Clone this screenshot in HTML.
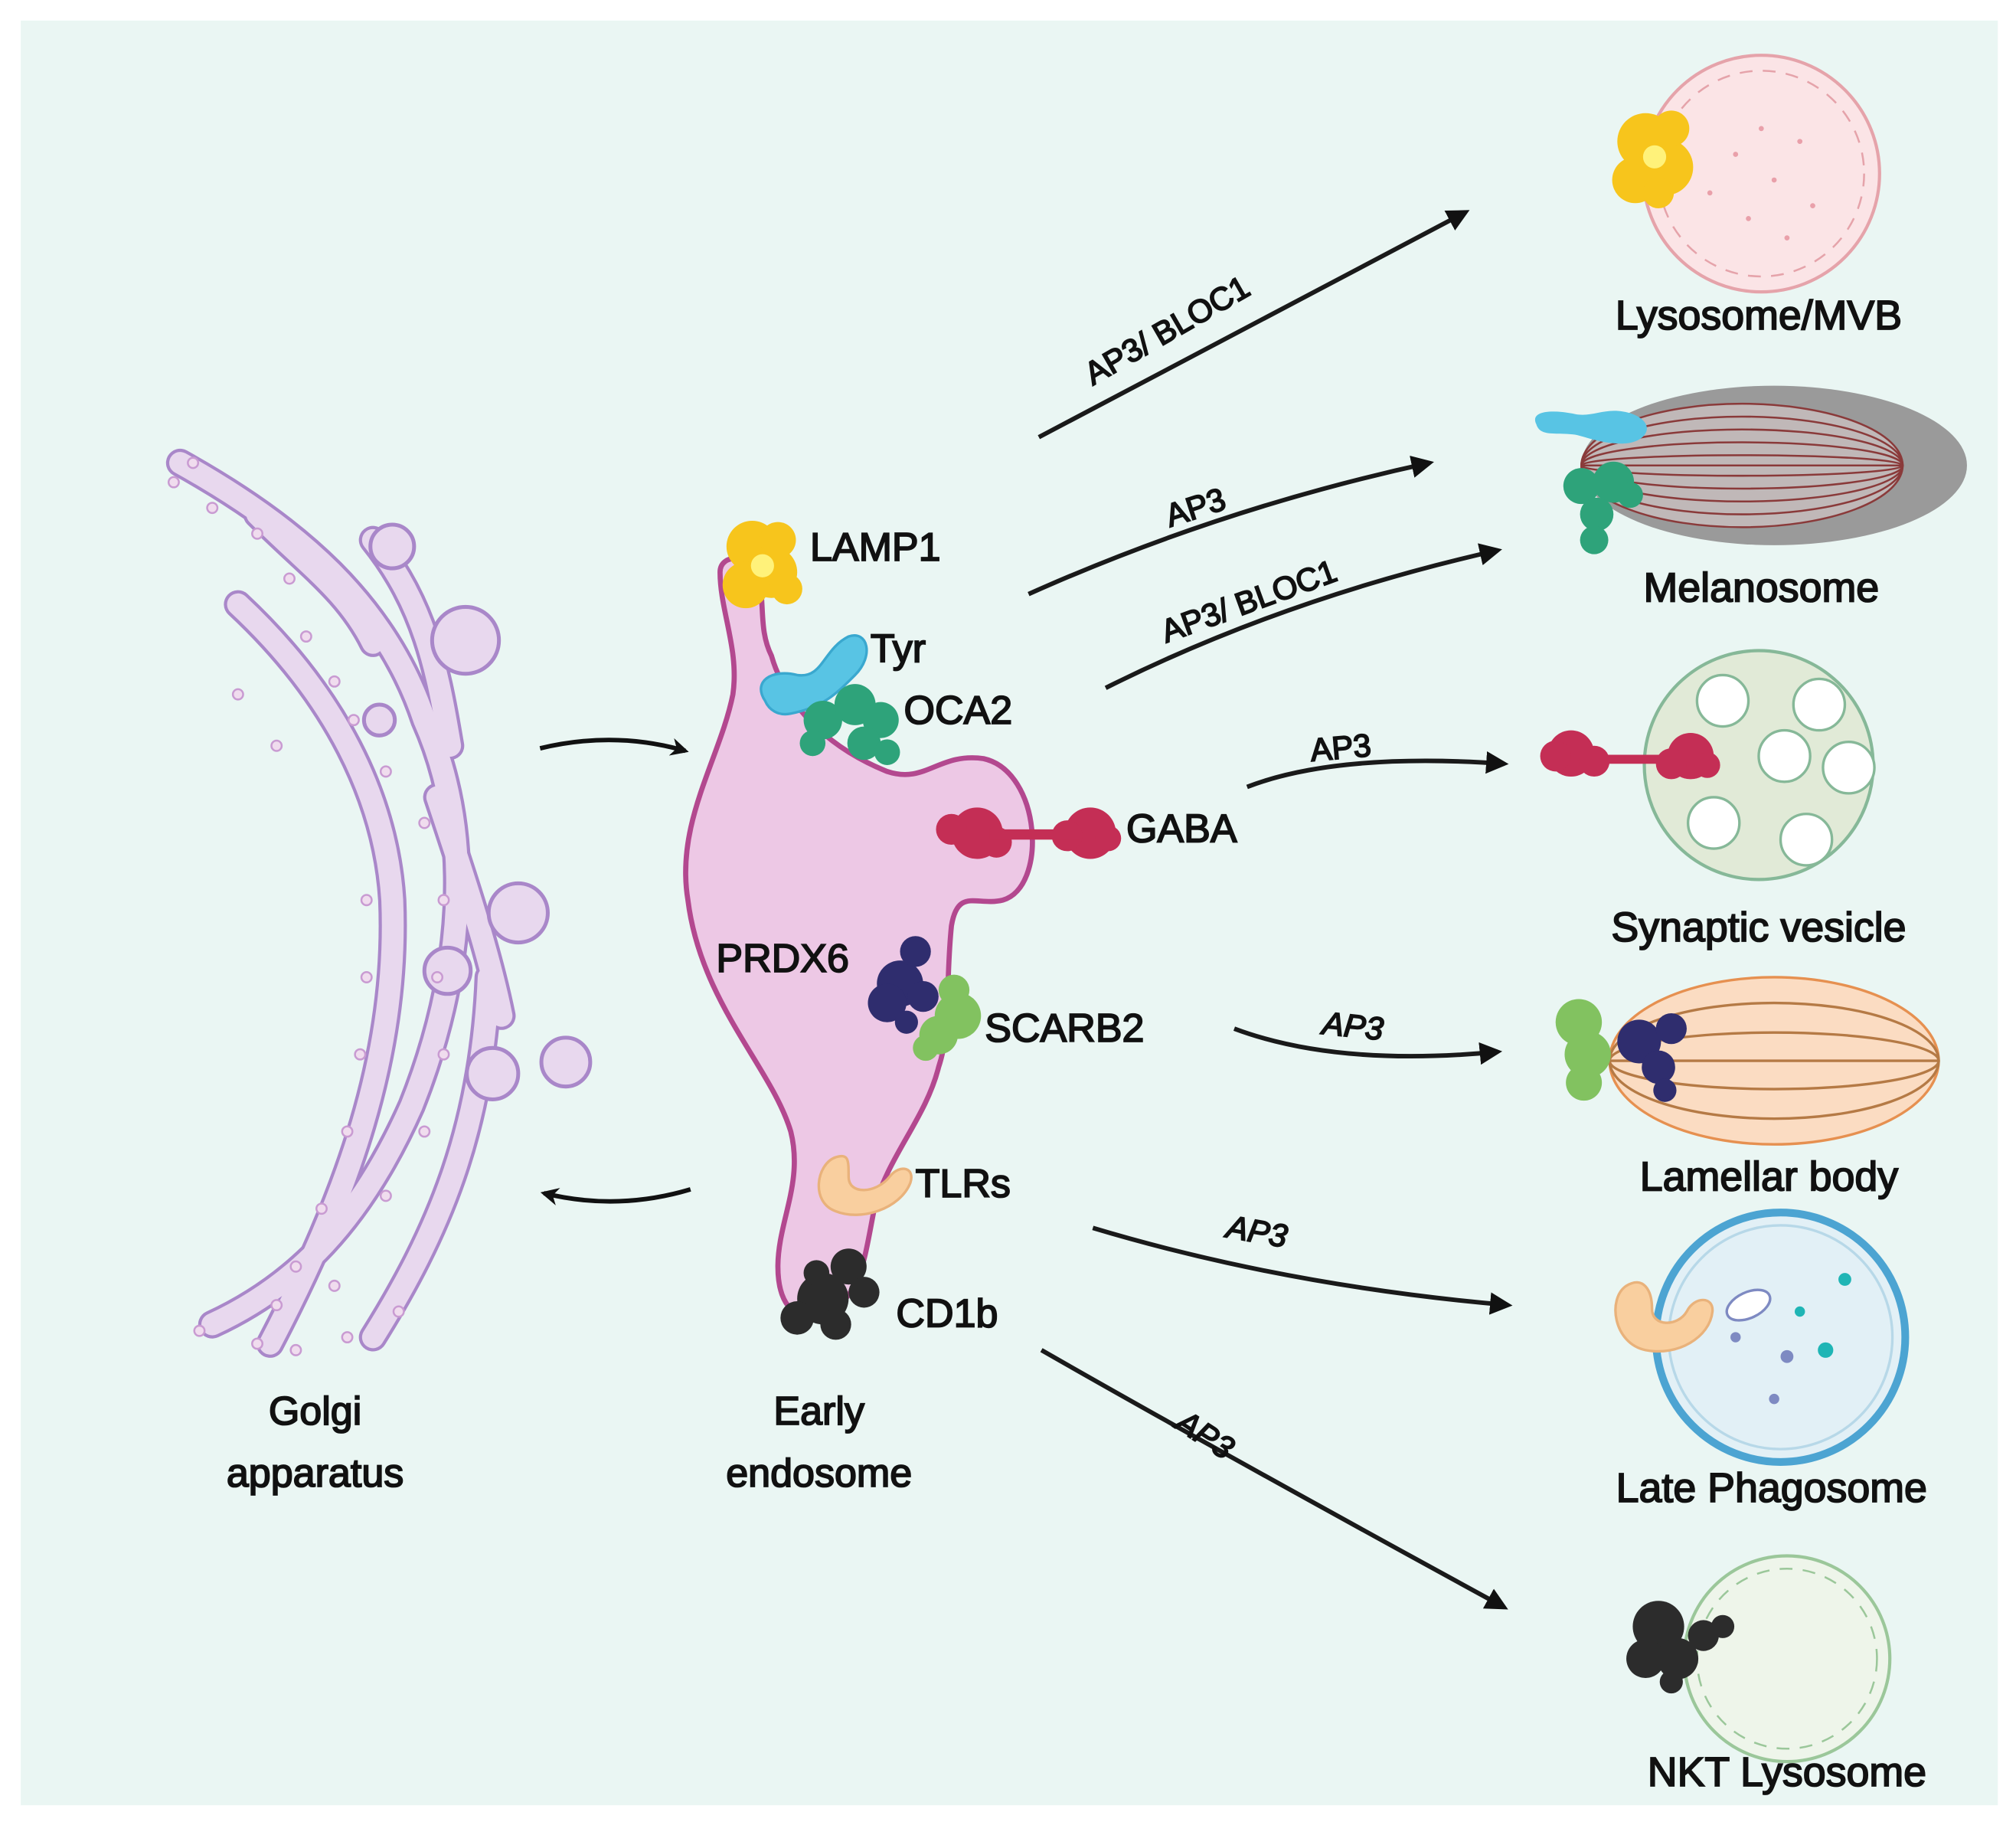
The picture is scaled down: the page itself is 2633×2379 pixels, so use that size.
<!DOCTYPE html>
<html><head><meta charset="utf-8"><style>
html,body{margin:0;padding:0;background:#fff}
svg{display:block}
text{font-family:"Liberation Sans",sans-serif;fill:#111;stroke:#111;stroke-width:1.1}
</style></head><body>
<svg width="2633" height="2379" viewBox="0 0 1568 1417" xmlns="http://www.w3.org/2000/svg">
<defs>
<marker id="ah" viewBox="0 0 10 10" refX="8" refY="5" markerWidth="5" markerHeight="5" orient="auto" markerUnits="strokeWidth">
<path d="M0,0 L10,5 L0,10 z" fill="#111"/></marker>
<marker id="ah2" viewBox="0 0 10 10" refX="8" refY="5" markerWidth="4" markerHeight="4" orient="auto" markerUnits="strokeWidth">
<path d="M0,0 L10,5 L0,10 L3,5 z" fill="#111"/></marker>
</defs>
<rect x="0" y="0" width="1568" height="1417" fill="#fff"/>
<rect x="16" y="16" width="1538" height="1388" fill="#eaf6f3"/>

<!-- Golgi -->
<g fill="none" stroke-linecap="round">
<g stroke="#a987c9" stroke-width="22">
<path d="M140,360 C230,410 300,470 330,560 C370,650 360,760 320,860 C280,950 230,1000 165,1030"/>
<path d="M185,470 C260,540 300,620 305,700 C310,820 270,930 210,1045"/>
<path d="M290,420 C330,470 340,520 350,580"/>
<path d="M340,620 C360,680 380,740 390,790"/>
<path d="M380,760 C375,880 340,960 290,1040"/>
<path d="M200,400 C240,440 270,460 290,500"/>
</g>
<g stroke="#e8d8ee" stroke-width="17">
<path d="M140,360 C230,410 300,470 330,560 C370,650 360,760 320,860 C280,950 230,1000 165,1030"/>
<path d="M185,470 C260,540 300,620 305,700 C310,820 270,930 210,1045"/>
<path d="M290,420 C330,470 340,520 350,580"/>
<path d="M340,620 C360,680 380,740 390,790"/>
<path d="M380,760 C375,880 340,960 290,1040"/>
<path d="M200,400 C240,440 270,460 290,500"/>
</g>
</g>
<g fill="#e8d8ee" stroke="#a987c9" stroke-width="3">
<circle cx="305" cy="425" r="17"/>
<circle cx="362" cy="498" r="26"/>
<circle cx="348" cy="755" r="18"/>
<circle cx="403" cy="710" r="23"/>
<circle cx="440" cy="826" r="19"/>
<circle cx="383" cy="835" r="20"/>
<circle cx="295" cy="560" r="12"/>
</g>
<g fill="#f0dcee" stroke="#c99bd2" stroke-width="1.5">
<circle cx="135" cy="375" r="4"/><circle cx="150" cy="360" r="4"/><circle cx="165" cy="395" r="4"/><circle cx="200" cy="415" r="4"/><circle cx="225" cy="450" r="4"/>
<circle cx="238" cy="495" r="4"/><circle cx="260" cy="530" r="4"/><circle cx="275" cy="560" r="4"/><circle cx="300" cy="600" r="4"/><circle cx="330" cy="640" r="4"/>
<circle cx="345" cy="700" r="4"/><circle cx="340" cy="760" r="4"/><circle cx="345" cy="820" r="4"/><circle cx="330" cy="880" r="4"/><circle cx="300" cy="930" r="4"/>
<circle cx="285" cy="700" r="4"/><circle cx="285" cy="760" r="4"/><circle cx="280" cy="820" r="4"/><circle cx="270" cy="880" r="4"/><circle cx="250" cy="940" r="4"/>
<circle cx="230" cy="985" r="4"/><circle cx="260" cy="1000" r="4"/><circle cx="200" cy="1045" r="4"/><circle cx="155" cy="1035" r="4"/><circle cx="215" cy="1015" r="4"/>
<circle cx="310" cy="1020" r="4"/><circle cx="270" cy="1040" r="4"/><circle cx="230" cy="1050" r="4"/><circle cx="185" cy="540" r="4"/><circle cx="215" cy="580" r="4"/>
</g>

<path d="M420,582 Q478,568 533,584" fill="none" stroke="#111" stroke-width="3.5" marker-end="url(#ah2)"/>
<path d="M537,925 Q480,942 423,928" fill="none" stroke="#111" stroke-width="3.5" marker-end="url(#ah2)"/>

<!-- Endosome -->
<path d="M560,445 C560,430 585,430 590,450 C595,470 590,490 600,510 C610,545 640,580 690,600 C720,610 730,585 765,590 C810,600 815,690 780,700 C760,705 745,690 740,720 C735,770 740,800 730,830 C720,870 690,900 680,940 C672,980 670,1010 640,1022 C615,1030 605,1010 605,985 C605,950 625,920 615,880 C600,830 545,780 535,700 C525,640 560,590 570,540 C575,505 560,475 560,445 Z" fill="#edc8e5" stroke="#b3488f" stroke-width="4"/>

<g fill="#f7c51c"><circle cx="585" cy="425" r="20"/><circle cx="600" cy="445" r="20"/><circle cx="580" cy="455" r="18"/><circle cx="605" cy="420" r="14"/><circle cx="612" cy="458" r="12"/></g>
<circle cx="593" cy="440" r="9" fill="#fff27a"/>
<path d="M595,545 C585,530 600,520 620,525 C640,528 640,505 660,495 C675,490 680,510 665,525 C650,540 640,550 615,555 C605,557 598,552 595,545 Z" fill="#58c4e4" stroke="#3aa8cf" stroke-width="2"/>
<g fill="#2ea37a"><circle cx="640" cy="560" r="15"/><circle cx="665" cy="548" r="16"/><circle cx="685" cy="560" r="14"/><circle cx="672" cy="578" r="13"/><circle cx="690" cy="585" r="10"/><circle cx="632" cy="578" r="10"/></g>
<g fill="#c42e55"><circle cx="760" cy="648" r="20"/><circle cx="740" cy="645" r="12"/><circle cx="775" cy="655" r="12"/><circle cx="848" cy="648" r="20"/><circle cx="830" cy="650" r="12"/><circle cx="862" cy="652" r="10"/><rect x="770" y="645" width="70" height="8"/></g>
<g fill="#2f2d6e"><circle cx="700" cy="765" r="18"/><circle cx="690" cy="780" r="15"/><circle cx="712" cy="740" r="12"/><circle cx="718" cy="775" r="12"/><circle cx="705" cy="795" r="9"/></g>
<g fill="#82c260"><circle cx="745" cy="790" r="18"/><circle cx="730" cy="805" r="15"/><circle cx="742" cy="770" r="12"/><circle cx="720" cy="815" r="10"/></g>
<path d="M650,900 C635,905 630,935 650,942 C670,950 700,940 708,920 C712,908 700,905 692,915 C682,928 660,930 660,915 C660,902 660,897 650,900 Z" fill="#f9cf9f" stroke="#e9b27b" stroke-width="2"/>
<g fill="#2c2c2c"><circle cx="640" cy="1010" r="20"/><circle cx="620" cy="1025" r="13"/><circle cx="660" cy="985" r="14"/><circle cx="672" cy="1005" r="12"/><circle cx="650" cy="1030" r="12"/><circle cx="635" cy="990" r="10"/></g>

<g font-size="31">
<text x="630" y="436">LAMP1</text>
<text x="677" y="515">Tyr</text>
<text x="703" y="563">OCA2</text>
<text x="876" y="655">GABA</text>
<text x="557" y="756">PRDX6</text>
<text x="766" y="810">SCARB2</text>
<text x="712" y="931">TLRs</text>
<text x="697" y="1032">CD1b</text>
<text x="245" y="1108" text-anchor="middle">Golgi</text>
<text x="245" y="1156" text-anchor="middle">apparatus</text>
<text x="637" y="1108" text-anchor="middle">Early</text>
<text x="637" y="1156" text-anchor="middle">endosome</text>
</g>

<g fill="none" stroke="#1a1a1a" stroke-width="3.5">
<path d="M808,340 L1140,165" marker-end="url(#ah)"/>
<path d="M800,462 Q950,395 1112,360" marker-end="url(#ah)"/>
<path d="M860,535 Q1000,465 1165,428" marker-end="url(#ah)"/>
<path d="M970,612 Q1040,585 1170,594" marker-end="url(#ah)"/>
<path d="M960,800 Q1040,830 1165,818" marker-end="url(#ah)"/>
<path d="M850,955 Q1000,1000 1173,1015" marker-end="url(#ah)"/>
<path d="M810,1050 Q950,1130 1170,1250" marker-end="url(#ah)"/>
</g>
<g font-size="25" style="stroke-width:0.7">
<text transform="translate(850,300) rotate(-30)">AP3/ BLOC1</text>
<text transform="translate(910,410) rotate(-18)">AP3</text>
<text transform="translate(907,500) rotate(-20)">AP3/ BLOC1</text>
<text transform="translate(1020,592) rotate(-5)">AP3</text>
<text transform="translate(1028,804) rotate(6)" font-style="italic">AP3</text>
<text transform="translate(953,962) rotate(10)" font-style="italic">AP3</text>
<text transform="translate(913,1110) rotate(33)" font-style="italic">AP3</text>
</g>

<circle cx="1370" cy="135" r="92" fill="#fbe4e6" stroke="#e5a3aa" stroke-width="2.5"/>
<circle cx="1370" cy="135" r="80" fill="none" stroke="#e5a3aa" stroke-width="1.5" stroke-dasharray="10 8"/>
<g fill="#e9a0aa"><circle cx="1350" cy="120" r="2"/><circle cx="1380" cy="140" r="2"/><circle cx="1400" cy="110" r="2"/><circle cx="1360" cy="170" r="2"/><circle cx="1410" cy="160" r="2"/><circle cx="1330" cy="150" r="2"/><circle cx="1390" cy="185" r="2"/><circle cx="1370" cy="100" r="2"/></g>
<g fill="#f7c51c"><circle cx="1280" cy="110" r="22"/><circle cx="1295" cy="130" r="22"/><circle cx="1272" cy="140" r="18"/><circle cx="1300" cy="100" r="14"/><circle cx="1290" cy="150" r="12"/></g>
<circle cx="1287" cy="122" r="9" fill="#fff27a"/>

<ellipse cx="1380" cy="362" rx="150" ry="62" fill="#9a9a9a"/>
<g fill="none" stroke="#8a3a3a" stroke-width="1.5">
<ellipse cx="1355" cy="362" rx="125" ry="48" fill="#c0b8b8"/>
<ellipse cx="1355" cy="362" rx="125" ry="38"/>
<ellipse cx="1355" cy="362" rx="125" ry="28"/>
<ellipse cx="1355" cy="362" rx="125" ry="18"/>
<ellipse cx="1355" cy="362" rx="125" ry="8"/>
<line x1="1230" y1="362" x2="1480" y2="362"/>
</g>
<path d="M1195,330 C1190,320 1205,318 1225,322 C1240,325 1250,315 1270,322 C1290,330 1280,345 1262,345 C1245,345 1235,340 1225,338 C1210,336 1198,340 1195,330 Z" fill="#58c4e4"/>
<g fill="#2ea37a"><circle cx="1230" cy="378" r="14"/><circle cx="1255" cy="375" r="16"/><circle cx="1242" cy="400" r="13"/><circle cx="1240" cy="420" r="11"/><circle cx="1268" cy="385" r="10"/></g>

<circle cx="1368" cy="595" r="89" fill="#e1ead7" stroke="#86b898" stroke-width="2.5"/>
<g fill="#fff" stroke="#86b898" stroke-width="2">
<circle cx="1340" cy="545" r="20"/><circle cx="1415" cy="548" r="20"/><circle cx="1388" cy="588" r="20"/><circle cx="1438" cy="597" r="20"/><circle cx="1333" cy="640" r="20"/><circle cx="1405" cy="653" r="20"/>
</g>
<g fill="#c42e55"><circle cx="1222" cy="586" r="18"/><circle cx="1210" cy="588" r="12"/><circle cx="1240" cy="592" r="12"/><circle cx="1315" cy="588" r="18"/><circle cx="1300" cy="594" r="12"/><circle cx="1328" cy="595" r="10"/><rect x="1235" y="587" width="70" height="7"/></g>

<ellipse cx="1380" cy="825" rx="128" ry="65" fill="#fbdcc2" stroke="#e69050" stroke-width="2"/>
<g fill="none" stroke="#b57a45" stroke-width="2">
<ellipse cx="1380" cy="825" rx="128" ry="45"/>
<ellipse cx="1380" cy="825" rx="128" ry="22"/>
<line x1="1252" y1="825" x2="1508" y2="825"/>
</g>
<g fill="#82c260"><circle cx="1228" cy="795" r="18"/><circle cx="1235" cy="820" r="18"/><circle cx="1232" cy="842" r="14"/></g>
<g fill="#2f2d6e"><circle cx="1275" cy="810" r="17"/><circle cx="1290" cy="830" r="13"/><circle cx="1300" cy="800" r="12"/><circle cx="1295" cy="848" r="9"/></g>

<circle cx="1385" cy="1040" r="97" fill="#e2f0f6" stroke="#4ca4d2" stroke-width="6"/>
<circle cx="1385" cy="1040" r="87" fill="none" stroke="#b7d8e8" stroke-width="2"/>
<g fill="#1fb5b5"><circle cx="1435" cy="995" r="5"/><circle cx="1420" cy="1050" r="6"/><circle cx="1400" cy="1020" r="4"/></g>
<g fill="#7e8ac2"><circle cx="1390" cy="1055" r="5"/><circle cx="1380" cy="1088" r="4"/><circle cx="1350" cy="1040" r="4"/></g>
<ellipse cx="1360" cy="1015" rx="18" ry="10" fill="#fff" stroke="#7e8ac2" stroke-width="2" transform="rotate(-25 1360 1015)"/>
<path d="M1265,1000 C1250,1010 1255,1045 1280,1050 C1305,1055 1330,1040 1332,1020 C1333,1008 1318,1008 1312,1020 C1305,1032 1285,1032 1285,1018 C1285,1003 1278,992 1265,1000 Z" fill="#f9cf9f" stroke="#e9b27b" stroke-width="2"/>

<circle cx="1390" cy="1290" r="80" fill="#eef5ea" stroke="#9bc79a" stroke-width="2.5"/>
<circle cx="1390" cy="1290" r="70" fill="none" stroke="#9bc79a" stroke-width="1.5" stroke-dasharray="10 8"/>
<g fill="#2c2c2c"><circle cx="1290" cy="1265" r="20"/><circle cx="1280" cy="1290" r="15"/><circle cx="1305" cy="1290" r="16"/><circle cx="1325" cy="1272" r="12"/><circle cx="1340" cy="1265" r="9"/><circle cx="1300" cy="1308" r="9"/></g>

<g font-size="32">
<text x="1368" y="256" text-anchor="middle">Lysosome/MVB</text>
<text x="1370" y="468" text-anchor="middle">Melanosome</text>
<text x="1368" y="732" text-anchor="middle">Synaptic vesicle</text>
<text x="1376" y="926" text-anchor="middle">Lamellar body</text>
<text x="1378" y="1168" text-anchor="middle">Late Phagosome</text>
<text x="1390" y="1389" text-anchor="middle">NKT Lysosome</text>
</g>
</svg>
</body></html>
